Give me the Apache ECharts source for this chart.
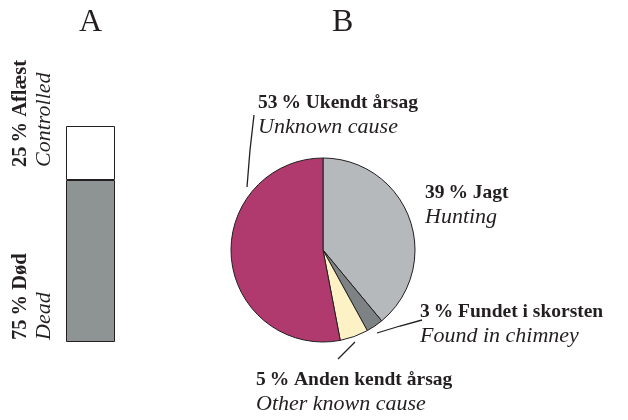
<!DOCTYPE html>
<html>
<head>
<meta charset="utf-8">
<script src="https://cdn.jsdelivr.net/npm/echarts@6/dist/echarts.min.js"></script>
<style>html,body{margin:0;padding:0;background:#fff}#c{width:628px;height:420px}</style>
</head>
<body>
<div id="c"></div>
<script>
// ---- data ----
const panelTitles = ['A', 'B'];
const barCategories = ['A'];
const barNamesDa = ['Død', 'Aflæst'];
const barNamesEn = ['Dead', 'Controlled'];
const barValues = [75, 25];
const pieNamesDa = ['Jagt', 'Fundet i skorsten', 'Anden kendt årsag', 'Ukendt årsag'];
const pieNamesEn = ['Hunting', 'Found in chimney', 'Other known cause', 'Unknown cause'];
const pieValues = [39, 3, 5, 53];

// ---- styles / layout ----
const FONT = '"Liberation Serif", "DejaVu Serif", serif';
const TXT = '#231f20';
const barColors = ['#8e9394', '#ffffff'];
const pieColors = ['#b5b9bb', '#7d8284', '#fdf2c6', '#b03a6e'];
const barLabelPos = [[-33.5, 160], [-33.5, 41]];
const pieLabelLayout = [
  { x: 425, y: 180, line: null },
  { x: 420, y: 299, line: [[377, 333], [400, 326], [422, 320]] },
  { x: 256, y: 367, line: [[355, 342], [346, 351], [338, 359]] },
  { x: 258, y: 90, line: [[247, 187], [250, 150], [254, 115]] }
];
const rich = {
  b: { fontFamily: FONT, fontWeight: 'bold', fontSize: 19.5, color: TXT, lineHeight: 25 },
  i: { fontFamily: FONT, fontStyle: 'italic', fontSize: 22, color: TXT, lineHeight: 25 }
};
const pct = v => v + '\u2009%';

const barSeries = barValues.map((v, k) => ({
  type: 'bar',
  name: barNamesDa[k],
  stack: 'a',
  barWidth: '100%',
  silent: true,
  data: [v],
  itemStyle: { color: barColors[k], borderColor: TXT, borderWidth: 1 },
  label: {
    show: true,
    position: barLabelPos[k],
    rotate: 90,
    align: 'left',
    verticalAlign: 'middle',
    formatter: () => '{b|' + pct(v) + ' ' + barNamesDa[k] + '}\n{i|' + barNamesEn[k] + '}',
    rich: {
      b: Object.assign({}, rich.b, { fontSize: 20.5, lineHeight: 24 }),
      i: Object.assign({}, rich.i, { lineHeight: 24 })
    }
  }
}));

const option = {
  animation: false,
  backgroundColor: '#fff',
  grid: { left: 66, top: 126, width: 49, height: 216 },
  xAxis: { type: 'category', data: barCategories, show: false },
  yAxis: { type: 'value', min: 0, max: 100, show: false },
  graphic: panelTitles.map((t, k) => ({
    type: 'text',
    left: k === 0 ? 79 : 332,
    top: 7,
    style: { text: t, font: '32px ' + FONT, fill: TXT }
  })),
  series: barSeries.concat([{
    type: 'pie',
    center: [323, 250],
    radius: 92,
    startAngle: 90,
    clockwise: true,
    silent: true,
    itemStyle: { borderColor: TXT, borderWidth: 1 },
    data: pieValues.map((v, k) => ({
      value: v,
      name: pieNamesDa[k],
      itemStyle: { color: pieColors[k] },
      labelLine: { show: !!pieLabelLayout[k].line }
    })),
    label: {
      show: true,
      position: 'outside',
      overflow: 'none',
      formatter: p => '{b|' + pct(p.value) + ' ' + p.name + '}\n{i|' + pieNamesEn[p.dataIndex] + '}',
      rich: rich
    },
    labelLine: { show: true, lineStyle: { color: TXT, width: 1.3 } },
    labelLayout: p => {
      const L = pieLabelLayout[p.dataIndex];
      const o = { x: L.x, y: L.y, align: 'left', verticalAlign: 'top' };
      if (L.line) o.labelLinePoints = L.line;
      return o;
    }
  }])
};
const chart = echarts.init(document.getElementById('c'), null, { renderer: 'canvas' });
chart.setOption(option);
</script>
</body>
</html>
